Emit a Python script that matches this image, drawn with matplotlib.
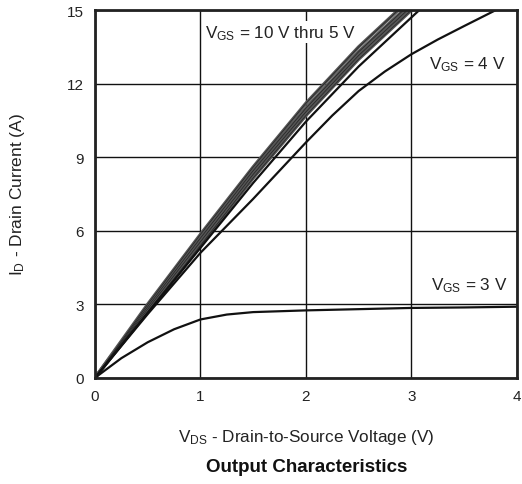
import numpy as np
import matplotlib
matplotlib.use("Agg")
import matplotlib.pyplot as plt

plt.rcParams['font.family'] = ['Liberation Sans', 'DejaVu Sans']
plt.rcParams['mathtext.default'] = 'regular'

# VGS = 10 V thru 6 V (tight bundle)
vds_hi = [0, 0.5, 1.0, 1.5, 2.0, 2.5, 3.0]
id_10v = [0, 3.0, 5.85, 8.6, 11.2, 13.5, 15.5]
id_8v = [0, 2.9, 5.7, 8.45, 11.0, 13.3, 15.3]
id_7v = [0, 2.8, 5.55, 8.3, 10.85, 13.15, 15.15]
id_6v = [0, 2.7, 5.4, 8.15, 10.7, 13.0, 15.0]
# VGS = 5 V
vds_5v = [0, 0.5, 1.0, 1.5, 2.0, 2.5, 3.0, 3.2]
id_5v = [0, 2.65, 5.3, 7.95, 10.45, 12.7, 14.7, 15.5]
# VGS = 4 V
vds_4v = [0, 0.5, 1.0, 1.5, 2.0, 2.25, 2.5, 2.75, 3.0, 3.25, 3.5, 3.8, 4.0]
id_4v = [0, 2.6, 5.1, 7.3, 9.6, 10.7, 11.7, 12.5, 13.2, 13.8, 14.35, 15.0, 15.4]
# VGS = 3 V
vds_3v = [0, 0.25, 0.5, 0.75, 1.0, 1.25, 1.5, 2.0, 2.5, 3.0, 3.5, 4.0]
id_3v = [0, 0.8, 1.45, 1.98, 2.38, 2.58, 2.68, 2.75, 2.8, 2.85, 2.87, 2.9]

xticks = [0, 1, 2, 3, 4]
yticks = [0, 3, 6, 9, 12, 15]

fig = plt.figure(figsize=(5.22, 4.85), dpi=100)
ax = fig.add_axes([0.182, 0.219, 0.808, 0.758])

for ys in [id_10v, id_8v, id_7v, id_6v]:
    ax.plot(vds_hi, ys, color='#555555', lw=2.4, solid_capstyle='butt')
for ys in [id_10v, id_8v, id_7v, id_6v]:
    ax.plot(vds_hi, ys, color='#222222', lw=0.5)
ax.plot(vds_5v, id_5v, color='#111111', lw=1.6)
ax.plot(vds_4v, id_4v, color='#111111', lw=1.6)
ax.plot(vds_3v, id_3v, color='#111111', lw=1.6)

ax.set_xlim(0, 4)
ax.set_ylim(0, 15)
ax.set_xticks(xticks)
ax.set_yticks(yticks)
ax.tick_params(length=0, labelsize=11, colors='#222222', pad=8)
ax.grid(color='#111111', lw=1.0)
ax.set_axisbelow(True)
for s in ax.spines.values():
    s.set_linewidth(2.0)
    s.set_color('#222222')

box = dict(facecolor='white', edgecolor='none', pad=1)
ax.text(1.76, 14.1, r'V$_{GS}$ = 10 V thru 5 V', ha='center', va='center', fontsize=12.3, color='#222222', bbox=box)
ax.text(3.53, 12.8, r'V$_{GS}$ = 4 V', ha='center', va='center', fontsize=12.3, color='#222222', bbox=box)
ax.text(3.55, 3.8, r'V$_{GS}$ = 3 V', ha='center', va='center', fontsize=12.3, color='#222222', bbox=box)

ax.set_xlabel(r'V$_{DS}$ - Drain-to-Source Voltage (V)', fontsize=12.3, color='#222222', labelpad=17)
ax.set_ylabel(r'I$_{D}$ - Drain Current (A)', fontsize=12.5, color='#222222', labelpad=29)
fig.text(0.587, 0.037, 'Output Characteristics', ha='center', va='center', fontsize=13.5, fontweight='bold', color='#111111')

fig.savefig('out.png', dpi=100)
